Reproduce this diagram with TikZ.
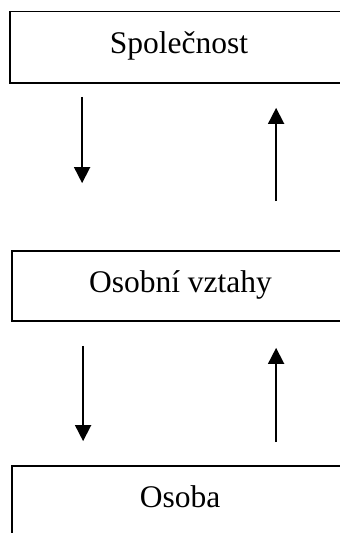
\documentclass[tikz,border=0pt]{standalone}
\usepackage{fontspec}
\setmainfont{Liberation Serif}
\usetikzlibrary{arrows.meta,calc}
\tikzset{
  box/.style={draw=black, line width=1.8pt, rectangle, inner sep=0pt,
    font=\fontsize{31.5}{36}\selectfont, text height=14pt, text depth=2pt},
  arr/.style={draw=black, line width=1.8pt, -{Triangle[length=16pt,width=16pt]}}
}
\begin{document}
\begin{tikzpicture}[x=1pt,y=-1pt]
\useasboundingbox (0,0) rectangle (340,533);
\clip (0,0) rectangle (340,533);
\fill[white] (0,0) rectangle (340,533);
\node[box, minimum width=338pt, minimum height=71.5pt] (top) at (179,47.25) {Společnost};
\node[box, minimum width=337pt, minimum height=70pt] (mid) at (180.5,286) {Osobní vztahy};
\node[box, minimum width=336pt, minimum height=70pt] (bot) at (180,501) {Osoba};
\draw[arr] ($(top.south west)+(73,13)$) -- ($(mid.north west)+(71,-67)$);
\draw[arr] ($(mid.north west)+(265,-49)$) -- ($(top.south west)+(267,24)$);
\draw[arr] ($(mid.south west)+(72,24)$) -- ($(bot.north west)+(72,-24)$);
\draw[arr] ($(bot.north west)+(265,-23)$) -- ($(mid.south west)+(265,26)$);
\end{tikzpicture}
\end{document}
